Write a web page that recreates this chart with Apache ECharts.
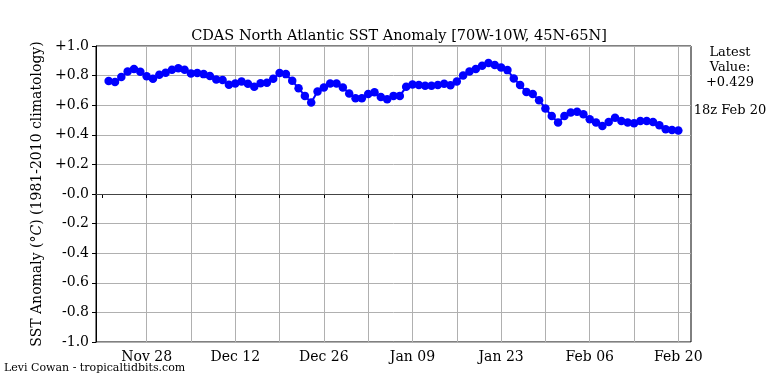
<!DOCTYPE html>
<html>
<head>
<meta charset="utf-8">
<script src="https://cdn.jsdelivr.net/npm/echarts@6/dist/echarts.min.js"></script>
<style>html,body{margin:0;padding:0;background:#fff;}#c{width:768px;height:384px;}</style>
</head>
<body>
<div id="c"></div>
<script>
// Daily SST anomaly values, Nov 22 .. Feb 20 (18z)
const sstValues = [
  0.764, 0.756, 0.790, 0.828, 0.844, 0.826, 0.795, 0.778, 0.805, 0.820,
  0.840, 0.850, 0.840, 0.815, 0.817, 0.810, 0.797, 0.774, 0.770, 0.738,
  0.747, 0.760, 0.745, 0.725, 0.749, 0.751, 0.778, 0.818, 0.810, 0.765,
  0.715, 0.663, 0.618, 0.693, 0.720, 0.747, 0.747, 0.720, 0.679, 0.647,
  0.647, 0.675, 0.688, 0.655, 0.640, 0.663, 0.663, 0.724, 0.740, 0.736,
  0.731, 0.731, 0.736, 0.745, 0.735, 0.760, 0.800, 0.828, 0.844, 0.866,
  0.885, 0.871, 0.855, 0.837, 0.781, 0.736, 0.690, 0.675, 0.634, 0.578,
  0.527, 0.483, 0.527, 0.550, 0.556, 0.539, 0.505, 0.483, 0.460, 0.487,
  0.516, 0.494, 0.483, 0.478, 0.494, 0.494, 0.487, 0.464, 0.437, 0.432,
  0.429
];
const tickLabels = ["Nov 28", "Dec 12", "Dec 26", "Jan 09", "Jan 23", "Feb 06", "Feb 20"];
const yTicks = [-1.0, -0.8, -0.6, -0.4, -0.2, 0.0, 0.2, 0.4, 0.6, 0.8, 1.0];
const latestValue = "+0.429";
const latestTime = "18z Feb 20";

// Build daily categories (axis span Nov 20 .. Feb 22)
const monthNames = ["Jan","Feb","Mar","Apr","May","Jun","Jul","Aug","Sep","Oct","Nov","Dec"];
const categories = [];
{
  const d = new Date(Date.UTC(2023, 10, 20));
  const end = new Date(Date.UTC(2024, 1, 22));
  while (d <= end) {
    categories.push(monthNames[d.getUTCMonth()] + " " + String(d.getUTCDate()).padStart(2, "0"));
    d.setUTCDate(d.getUTCDate() + 1);
  }
}
const firstDataIdx = categories.indexOf("Nov 22");
const firstTickIdx = categories.indexOf("Nov 21");
const seriesData = categories.map((c, i) => {
  const k = i - firstDataIdx;
  return (k >= 0 && k < sstValues.length) ? sstValues[k] : null;
});

const FONT = "DejaVu Serif";
const chart = echarts.init(document.getElementById('c'), null, {renderer: 'canvas'});
chart.setOption({
  animation: false,
  backgroundColor: '#ffffff',
  textStyle: {fontFamily: FONT},
  title: {
    text: "CDAS North Atlantic SST Anomaly [70W-10W, 45N-65N]",
    left: 394, top: 24, textAlign: 'center',
    textStyle: {fontFamily: FONT, fontSize: 14.5, fontWeight: 'normal', color: '#000'}
  },
  graphic: [
    {type: 'text', x: 730, y: 45, style: {text: "Latest\nValue:\n" + latestValue, font: '13px "DejaVu Serif"', fill: '#000', align: 'center', textAlign: 'center', lineHeight: 15}},
    {type: 'text', x: 730, y: 104, style: {text: latestTime, font: '13px "DejaVu Serif"', fill: '#000', align: 'center', textAlign: 'center'}},
    {type: 'text', x: 4, y: 363, style: {text: "Levi Cowan - tropicaltidbits.com", font: '11px "DejaVu Serif"', fill: '#000'}}
  ],
  grid: {left: 96, right: 77, top: 46, bottom: 42, show: true, borderColor: '#000', borderWidth: 1, backgroundColor: 'transparent'},
  xAxis: {
    type: 'category',
    data: categories,
    boundaryGap: false,
    axisLine: {show: true, lineStyle: {color: '#000', width: 1}},
    axisTick: {show: true, length: 4, inside: false, lineStyle: {color: '#000'},
      interval: (i) => (i - firstTickIdx) % 7 === 0 && i >= firstTickIdx},
    axisLabel: {fontFamily: FONT, fontSize: 14, color: '#000', margin: 8,
      interval: (i, v) => tickLabels.indexOf(v) >= 0,
      formatter: (v) => v},
    splitLine: {show: true, lineStyle: {color: '#b0b0b0', width: 1},
      interval: (i) => (i - firstTickIdx) % 7 === 0 && i > firstTickIdx}
  },
  yAxis: {
    type: 'value',
    min: yTicks[0], max: yTicks[yTicks.length - 1], interval: 0.2,
    name: "SST Anomaly (°{it|C}) (1981-2010 climatology)",
    nameLocation: 'middle', nameGap: 52, nameRotate: 90,
    nameTextStyle: {fontFamily: FONT, fontSize: 14, color: '#000', rich: {it: {fontStyle: 'italic', fontFamily: FONT, fontSize: 14}}},
    axisLine: {show: true, lineStyle: {color: '#000'}},
    axisTick: {show: true, length: 4, lineStyle: {color: '#000'}},
    axisLabel: {fontFamily: FONT, fontSize: 14, color: '#000', margin: 7,
      formatter: (v) => {
        const r = Math.round(v * 10) / 10;
        if (r > 0) return "+" + r.toFixed(1);
        if (r < 0) return r.toFixed(1);
        return "-0.0";
      }},
    splitLine: {show: true, lineStyle: {color: '#b0b0b0', width: 1}}
  },
  series: [{
    type: 'line',
    data: seriesData,
    connectNulls: false,
    showAllSymbol: true,
    symbol: 'circle', symbolSize: 8.5,
    itemStyle: {color: '#0000ff'},
    lineStyle: {color: '#0000ff', width: 2},
    markLine: {
      silent: true, symbol: 'none', label: {show: false},
      lineStyle: {color: '#444', width: 1.2, type: 'solid'},
      data: [{yAxis: 0}]
    },
    z: 3
  }]
});
</script>
</body>
</html>
